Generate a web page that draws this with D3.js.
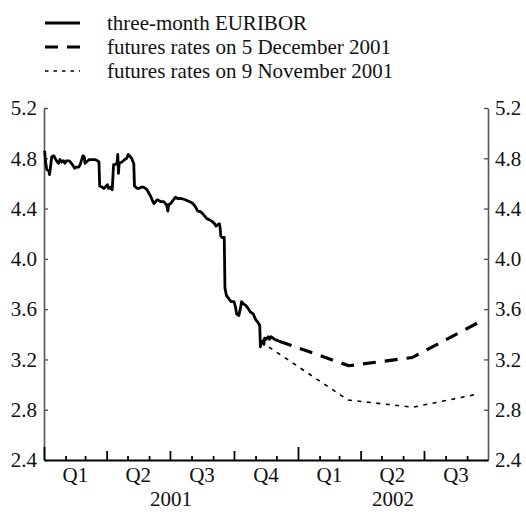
<!DOCTYPE html>
<html>
<head>
<meta charset="utf-8">
<script src="https://cdn.jsdelivr.net/npm/d3@7"></script>
<style>
  html, body { margin: 0; padding: 0; background: #fff; }
  svg { display: block; font-family: "Liberation Serif", "Times New Roman", serif; }
</style>
</head>
<body>
<svg id="chart" width="526" height="512"></svg>
<script>
// ---------------- DATA ----------------
const euribor = [
  ["2001-01-02",4.86],["2001-01-03",4.78],["2001-01-05",4.71],["2001-01-08",4.70],["2001-01-09",4.67],
  ["2001-01-11",4.76],["2001-01-12",4.81],["2001-01-15",4.82],["2001-01-17",4.80],["2001-01-19",4.78],
  ["2001-01-22",4.76],["2001-01-24",4.79],["2001-01-26",4.77],["2001-01-29",4.78],["2001-01-31",4.76],
  ["2001-02-02",4.78],["2001-02-06",4.78],["2001-02-08",4.77],["2001-02-12",4.74],["2001-02-14",4.72],
  ["2001-02-16",4.73],["2001-02-20",4.73],["2001-02-22",4.75],["2001-02-26",4.82],["2001-02-28",4.81],
  ["2001-03-01",4.76],["2001-03-05",4.78],["2001-03-07",4.79],["2001-03-12",4.79],["2001-03-15",4.79],
  ["2001-03-19",4.78],["2001-03-21",4.77],["2001-03-22",4.58],["2001-03-26",4.57],["2001-03-28",4.56],
  ["2001-03-30",4.57],["2001-04-02",4.59],["2001-04-04",4.56],["2001-04-06",4.57],["2001-04-09",4.55],
  ["2001-04-11",4.75],["2001-04-13",4.75],["2001-04-16",4.76],["2001-04-17",4.83],["2001-04-18",4.68],
  ["2001-04-19",4.76],["2001-04-23",4.77],["2001-04-25",4.78],["2001-04-27",4.79],["2001-04-30",4.80],
  ["2001-05-02",4.83],["2001-05-04",4.82],["2001-05-07",4.80],["2001-05-09",4.77],["2001-05-10",4.76],
  ["2001-05-11",4.58],["2001-05-15",4.56],["2001-05-17",4.56],["2001-05-21",4.57],["2001-05-24",4.57],
  ["2001-05-29",4.55],["2001-05-31",4.53],["2001-06-04",4.49],["2001-06-06",4.46],["2001-06-08",4.44],
  ["2001-06-11",4.46],["2001-06-13",4.47],["2001-06-18",4.455],["2001-06-22",4.455],["2001-06-26",4.43],
  ["2001-06-28",4.38],["2001-06-29",4.43],["2001-07-02",4.44],["2001-07-04",4.455],["2001-07-06",4.47],
  ["2001-07-09",4.49],["2001-07-12",4.48],["2001-07-17",4.48],["2001-07-23",4.47],["2001-07-27",4.46],
  ["2001-07-31",4.45],["2001-08-03",4.44],["2001-08-06",4.42],["2001-08-08",4.40],["2001-08-10",4.38],
  ["2001-08-14",4.375],["2001-08-17",4.36],["2001-08-20",4.34],["2001-08-23",4.32],["2001-08-27",4.31],
  ["2001-08-30",4.30],["2001-09-03",4.28],["2001-09-05",4.26],["2001-09-07",4.27],["2001-09-10",4.28],
  ["2001-09-11",4.25],["2001-09-12",4.18],["2001-09-14",4.17],["2001-09-17",4.17],["2001-09-18",3.77],
  ["2001-09-20",3.71],["2001-09-24",3.68],["2001-09-27",3.66],["2001-10-01",3.66],["2001-10-03",3.62],
  ["2001-10-05",3.56],["2001-10-08",3.55],["2001-10-10",3.60],["2001-10-12",3.66],["2001-10-15",3.64],
  ["2001-10-18",3.63],["2001-10-22",3.60],["2001-10-24",3.58],["2001-10-29",3.56],["2001-10-31",3.53],
  ["2001-11-02",3.51],["2001-11-05",3.49],["2001-11-07",3.47],["2001-11-08",3.30],["2001-11-09",3.33],
  ["2001-11-12",3.35],["2001-11-13",3.32],["2001-11-14",3.37],["2001-11-16",3.36],["2001-11-19",3.38],
  ["2001-11-21",3.36],["2001-11-23",3.38],["2001-11-26",3.37],["2001-11-28",3.36],["2001-11-30",3.355],
  ["2001-12-03",3.35],["2001-12-05",3.345]
];
const futuresDec5 = [
  ["2001-12-05",3.345],["2002-03-15",3.15],["2002-06-14",3.215],["2002-09-16",3.49]
];
const futuresNov9 = [
  ["2001-11-09",3.34],["2002-03-14",2.877],["2002-06-15",2.82],["2002-09-17",2.925]
];
const yTicks = [2.4, 2.8, 3.2, 3.6, 4.0, 4.4, 4.8, 5.2];
const quarterStarts = ["2001-01-01","2001-04-01","2001-07-01","2001-10-01","2002-01-01","2002-04-01","2002-07-01"];
const quarterLabels = ["Q1","Q2","Q3","Q4","Q1","Q2","Q3"];
const yearLabels = ["2001","2002"];
const yearSpans = [["2001-01-01","2002-01-01"],["2002-01-01","2002-10-01"]];
const legendLabels = ["three-month EURIBOR","futures rates on 5 December 2001","futures rates on 9 November 2001"];

// ---------------- CHART ----------------
const parse = d3.timeParse("%Y-%m-%d");
const svg = d3.select("#chart");
const FONT = '"Liberation Serif","Times New Roman",serif';
const FS = 21;
const x = d3.scaleTime().domain([new Date(2001,0,1), new Date(2002,9,1)]).range([44, 488]);
const y = d3.scaleLinear().domain([2.4, 5.2]).range([460, 108]);

const line = d3.line().x(d => x(parse(d[0]))).y(d => y(d[1]));

// vertical axes
const fmt = d3.format(".1f");
const leftAxis = d3.axisLeft(y).tickValues(yTicks).tickFormat(fmt).tickSizeInner(-4).tickSizeOuter(0).tickPadding(7);
const rightAxis = d3.axisRight(y).tickValues(yTicks).tickFormat(fmt).tickSizeInner(-4).tickSizeOuter(0).tickPadding(7);
const gl = svg.append("g").attr("transform","translate(44,0)").call(leftAxis);
const gr = svg.append("g").attr("transform","translate(488,0)").call(rightAxis);
[gl, gr].forEach(g => {
  g.select(".domain").attr("stroke","#555").attr("stroke-width",1.6);
  g.selectAll(".tick line").attr("stroke","#555").attr("stroke-width",1.4);
  g.selectAll(".tick text").attr("font-size",FS).attr("fill","#111").attr("font-family",FONT);
});

// bottom axis
const bottomAxis = d3.axisBottom(x).ticks(d3.timeMonth.every(1)).tickFormat("").tickSizeInner(-4).tickSizeOuter(0);
const gb = svg.append("g").attr("transform","translate(0,460)").call(bottomAxis);
gb.select(".domain").attr("stroke","#000").attr("stroke-width",2);
gb.selectAll(".tick line")
  .attr("stroke","#000").attr("stroke-width",1.8)
  .attr("y2", d => d.getMonth() === 0 ? -13 : (d.getMonth() % 3 === 0 ? -9 : -4))
  .attr("opacity", d => (+d === +x.domain()[1]) ? 0 : 1);

// quarter labels
svg.append("g").selectAll("text").data(quarterStarts).join("text")
  .attr("x", d => {
    const s = parse(d);
    const e = d3.timeMonth.offset(s, 3);
    return (x(s) + x(e)) / 2;
  })
  .attr("y", 482)
  .attr("text-anchor","middle").attr("font-size",FS).attr("fill","#111").attr("font-family",FONT)
  .text((d,i) => quarterLabels[i]);

svg.append("g").selectAll("text").data(yearSpans).join("text")
  .attr("x", d => (x(parse(d[0])) + x(parse(d[1]))) / 2)
  .attr("y", 506)
  .attr("text-anchor","middle").attr("font-size",FS).attr("fill","#111").attr("font-family",FONT)
  .text((d,i) => yearLabels[i]);

// lines
svg.append("path").datum(futuresNov9).attr("d", line)
  .attr("fill","none").attr("stroke","#000").attr("stroke-width",1.6).attr("stroke-dasharray","4,5.5");
svg.append("path").datum(futuresDec5).attr("d", line)
  .attr("fill","none").attr("stroke","#000").attr("stroke-width",3.2).attr("stroke-dasharray","13,9");
svg.append("path").datum(euribor).attr("d", line)
  .attr("fill","none").attr("stroke","#000").attr("stroke-width",2.8).attr("stroke-linejoin","round");

// legend
const styles = [
  {w:2.8, dash:null},
  {w:3.2, dash:"13,9"},
  {w:1.6, dash:"3.5,5"}
];
const lg = svg.append("g");
legendLabels.forEach((lab, i) => {
  const yy = 23 + i * 24;
  lg.append("line").attr("x1",45).attr("x2",80).attr("y1",yy).attr("y2",yy)
    .attr("stroke","#000").attr("stroke-width",styles[i].w)
    .attr("stroke-dasharray", styles[i].dash);
  lg.append("text").attr("x",107).attr("y",yy+6.5).attr("font-size",FS).attr("fill","#111")
    .attr("font-family",FONT).text(lab);
});
</script>
</body>
</html>
